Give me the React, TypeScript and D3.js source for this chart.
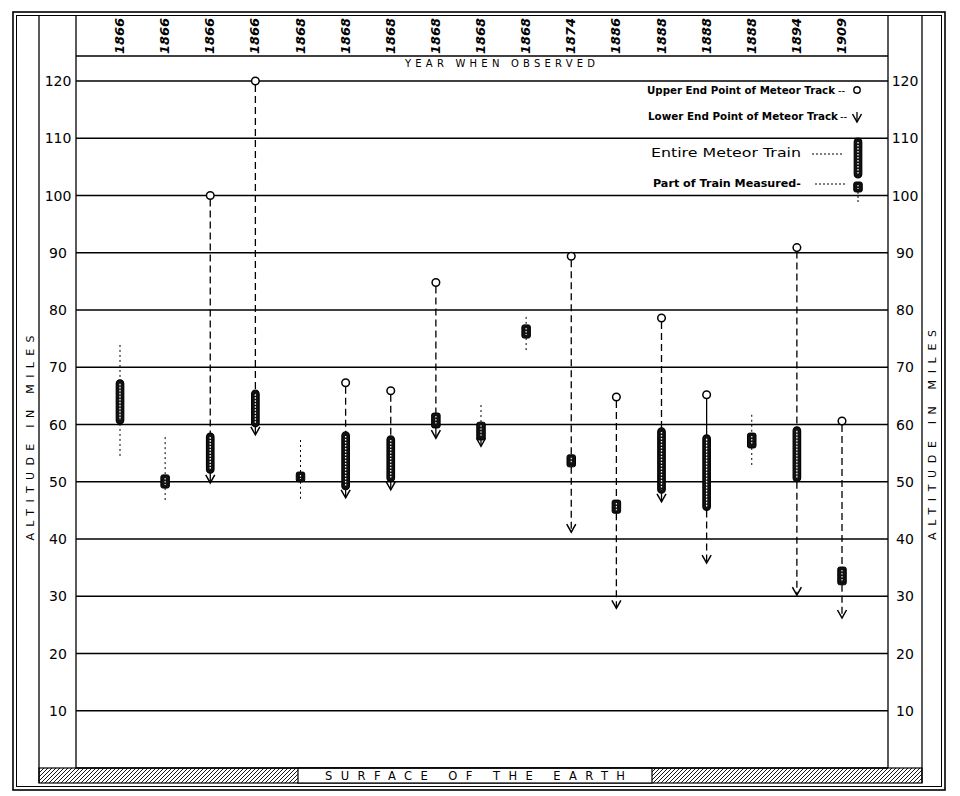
import React from 'react';
import * as d3 from 'd3';

// ---- data ----
const years = ['1866','1866','1866','1866','1868','1868','1868','1868','1868','1868','1874','1886','1888','1888','1888','1894','1909'];
// altitude (miles) of upper end point of meteor track (circle)
const upperEnd: (number | null)[] = [null, null, 100, 120, null, 67.3, 65.9, 84.8, null, null, 89.4, 64.8, 78.6, 65.2, null, 90.9, 60.6];
const upperLink = ['', '', 'dashed', 'dashed', '', 'dashed', 'dashed', 'dashed', '', '', 'dashed', 'dashed', 'dashed', 'solid', '', 'dashed', 'dashed'];
// altitude of lower end point (arrow)
const lowerEnd: (number | null)[] = [null, null, 49.8, 58.2, null, 47.2, 48.6, 57.6, 56.2, null, 41.2, 27.9, 46.5, 35.8, null, 30.2, 26.2];
// train
const trainKind = ['entire','part','entire','entire','part','entire','entire','part','part','part','part','part','entire','entire','part','entire','part'];
const trainTop = [67.8, 51.2, 58.5, 66, 51.7, 58.7, 58, 62, 60.4, 77.4, 54.7, 46.8, 59.4, 58.2, 58.5, 59.6, 35.1];
const trainBottom = [60.1, 48.9, 51.5, 59.6, 50, 48.6, 50, 59.4, 57.3, 75.1, 52.6, 44.5, 48, 45, 55.9, 50, 32];
// faint dotted extensions
const dottedTop: (number | null)[] = [73.9, 57.8, null, null, 57.3, null, null, null, 63.4, 78.8, null, null, null, null, 61.7, null, null];
const dottedBottom: (number | null)[] = [54.1, 46.8, null, null, 46.8, null, null, null, null, 72.7, null, null, null, null, 52.4, null, null];
const altitudeTicks = [10, 20, 30, 40, 50, 60, 70, 80, 90, 100, 110, 120];

const FONT = '"DejaVu Sans", sans-serif';

function Capsule({ cx, y1, y2 }: { cx: number; y1: number; y2: number }) {
  const w = 7.5;
  return (
    <g>
      <rect x={cx - w / 2} y={y1} width={w} height={y2 - y1} rx={w / 2} fill="#111" stroke="#000" strokeWidth={1.2} />
      <line x1={cx} x2={cx} y1={y1 + 4} y2={y2 - 4} stroke="#fff" strokeWidth={1.3} strokeDasharray="1.6,1.4" />
    </g>
  );
}

function PartRect({ cx, y1, y2 }: { cx: number; y1: number; y2: number }) {
  const w = 8.5;
  return (
    <g>
      <rect x={cx - w / 2} y={y1} width={w} height={Math.max(y2 - y1, 8)} rx={2} fill="#111" stroke="#000" strokeWidth={1} />
      <line x1={cx} x2={cx} y1={y1 + 3} y2={y1 + Math.max(y2 - y1, 8) - 3} stroke="#fff" strokeWidth={1.1} strokeDasharray="1.5,1.5" />
    </g>
  );
}

function Arrow({ cx, tip }: { cx: number; tip: number }) {
  return <path d={`M${cx - 4.5},${tip - 8} L${cx},${tip} L${cx + 4.5},${tip - 8}`} fill="none" stroke="#000" strokeWidth={1.5} />;
}

export default function App() {
  const y = d3.scaleLinear().domain([0, 120]).range([768, 81]);
  const x = d3.scalePoint<number>().domain(d3.range(years.length)).range([120, 842]);

  const plotL = 76, plotR = 888, colL = 39, colR = 922;

  return (
    <svg width={960} height={796} style={{ position: 'absolute', left: 0, top: 0, background: '#fff' }} fontFamily={FONT}>
      <defs>
        <pattern id="hatch" patternUnits="userSpaceOnUse" width={4} height={4}>
          <path d="M-1,1 l2,-2 M0,4 l4,-4 M3,5 l2,-2" stroke="#000" strokeWidth={0.9} />
        </pattern>
      </defs>
      <rect x={0} y={0} width={960} height={796} fill="#fff" />

      {/* frame */}
      <rect x={13} y={12} width={932} height={778} fill="none" stroke="#000" strokeWidth={1.6} />
      <rect x={16.5} y={15.5} width={925} height={771} fill="none" stroke="#000" strokeWidth={1} />
      <line x1={colL} x2={colL} y1={15.5} y2={783} stroke="#000" strokeWidth={1.3} />
      <line x1={colR} x2={colR} y1={15.5} y2={783} stroke="#000" strokeWidth={1.3} />
      <line x1={plotL} x2={plotL} y1={15.5} y2={768} stroke="#000" strokeWidth={1.3} />
      <line x1={plotR} x2={plotR} y1={15.5} y2={768} stroke="#000" strokeWidth={1.3} />
      <line x1={plotL} x2={plotR} y1={56} y2={56} stroke="#000" strokeWidth={1.3} />

      {/* surface of the earth band */}
      <rect x={colL} y={768} width={colR - colL} height={15} fill="url(#hatch)" stroke="#000" strokeWidth={1.2} />
      <rect x={298} y={768} width={354} height={15} fill="#fff" stroke="#000" strokeWidth={1.2} />
      <text x={475} y={780} textAnchor="middle" fontSize={11.5} textLength={300} lengthAdjust="spacing">SURFACE OF THE EARTH</text>
      <line x1={plotL} x2={plotR} y1={768} y2={768} stroke="#000" strokeWidth={1.6} />

      {/* grid lines + labels */}
      {altitudeTicks.map(t => (
        <g key={t}>
          <line x1={plotL} x2={plotR} y1={y(t)} y2={y(t)} stroke="#000" strokeWidth={1.5} />
          <text x={58} y={y(t)} dy="0.36em" textAnchor="middle" fontSize={14}>{t}</text>
          <text x={905} y={y(t)} dy="0.36em" textAnchor="middle" fontSize={14}>{t}</text>
        </g>
      ))}

      {/* axis titles */}
      <text transform="translate(34,438) rotate(-90)" textAnchor="middle" fontSize={11} textLength={205} lengthAdjust="spacing">ALTITUDE IN MILES</text>
      <text transform="translate(936,435) rotate(-90)" textAnchor="middle" fontSize={11} textLength={210} lengthAdjust="spacing">ALTITUDE IN MILES</text>
      <text x={500} y={67} textAnchor="middle" fontSize={10} textLength={190} lengthAdjust="spacing">YEAR WHEN OBSERVED</text>

      {/* year labels */}
      {years.map((yr, i) => (
        <text key={'yr' + i} transform={`translate(${x(i)! + 4},36) rotate(-90)`} textAnchor="middle" fontSize={13} fontStyle="italic" fontWeight="bold">{yr}</text>
      ))}

      {/* meteors */}
      {years.map((_, i) => {
        const cx = x(i)!;
        const up = upperEnd[i], lo = lowerEnd[i];
        const yt = y(trainTop[i]), yb = y(trainBottom[i]);
        return (
          <g key={'m' + i}>
            {dottedTop[i] != null && (
              <line x1={cx} x2={cx} y1={y(dottedTop[i]!)} y2={yt} stroke="#000" strokeWidth={1} strokeDasharray="2,3" />
            )}
            {dottedBottom[i] != null && (
              <line x1={cx} x2={cx} y1={yb} y2={y(dottedBottom[i]!)} stroke="#000" strokeWidth={1} strokeDasharray="2,3" />
            )}
            {up != null && (
              <line x1={cx} x2={cx} y1={y(up) + 4} y2={yt} stroke="#000" strokeWidth={1.3}
                strokeDasharray={upperLink[i] === 'solid' ? undefined : '7,4'} />
            )}
            {lo != null && (
              <line x1={cx} x2={cx} y1={yb} y2={y(lo)} stroke="#000" strokeWidth={1.3}
                strokeDasharray={trainBottom[i] - lo > 3 ? '7,4' : undefined} />
            )}
            {trainKind[i] === 'entire' ? <Capsule cx={cx} y1={yt} y2={yb} /> : <PartRect cx={cx} y1={yt} y2={yb} />}
            {up != null && <circle cx={cx} cy={y(up)} r={3.8} fill="#fff" stroke="#000" strokeWidth={1.5} />}
            {lo != null && <Arrow cx={cx} tip={y(lo)} />}
          </g>
        );
      })}

      {/* legend */}
      <g>
        <rect x={644} y={83} width={230} height={40} fill="#fff" />
        <rect x={644} y={142} width={200} height={17} fill="#fff" />
        <rect x={644} y={176} width={200} height={14} fill="#fff" />
        <text x={647} y={94} fontSize={10} fontWeight="bold" textLength={188} lengthAdjust="spacingAndGlyphs">Upper End Point of Meteor Track</text>
        <text x={838} y={94} fontSize={10}>--</text>
        <circle cx={857} cy={90} r={3.2} fill="#fff" stroke="#000" strokeWidth={1.4} />
        <text x={648} y={120} fontSize={10} fontWeight="bold" textLength={190} lengthAdjust="spacingAndGlyphs">Lower End Point of Meteor Track</text>
        <text x={840} y={120} fontSize={10}>--</text>
        <line x1={857} x2={857} y1={112} y2={122} stroke="#000" strokeWidth={1.3} />
        <Arrow cx={857} tip={122} />
        <text x={651} y={157} fontSize={13} textLength={150} lengthAdjust="spacingAndGlyphs">Entire Meteor Train</text>
        <line x1={812} x2={842} y1={154} y2={154} stroke="#000" strokeWidth={1} strokeDasharray="2,2" />
        <Capsule cx={858} y1={138} y2={178} />
        <text x={653} y={187} fontSize={10.5} fontWeight="bold" textLength={148} lengthAdjust="spacingAndGlyphs">Part of Train Measured-</text>
        <line x1={815} x2={846} y1={184} y2={184} stroke="#000" strokeWidth={1} strokeDasharray="2,2" />
        <line x1={858} x2={858} y1={192} y2={204} stroke="#000" strokeWidth={1} strokeDasharray="2,2" />
        <PartRect cx={858} y1={182} y2={192} />
      </g>
    </svg>
  );
}
